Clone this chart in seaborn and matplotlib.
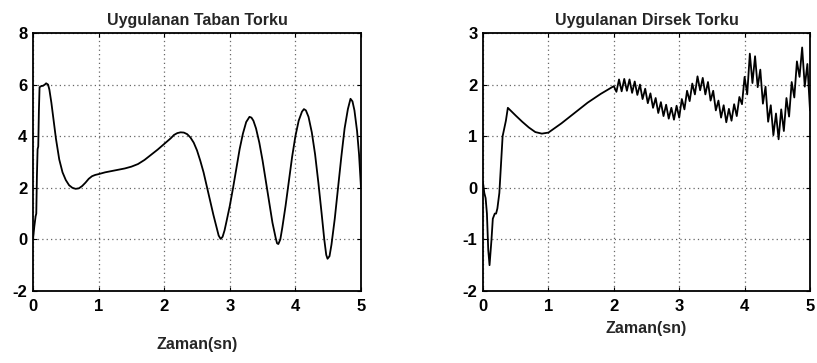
import matplotlib
matplotlib.use("Agg")
import matplotlib.pyplot as plt
import seaborn as sns
import pandas as pd

# ---- data ----
taban_t = [0.00, 0.02, 0.04, 0.05, 0.06, 0.07, 0.08, 0.09, 0.10, 0.13, 0.15, 0.18, 0.20,
           0.23, 0.25, 0.28, 0.30, 0.33, 0.35, 0.40, 0.45, 0.50, 0.55, 0.60, 0.65, 0.70,
           0.75, 0.80, 0.85, 0.90, 0.95, 1.00, 1.10, 1.20, 1.30, 1.40, 1.50, 1.60, 1.70,
           1.80, 1.90, 2.00, 2.10, 2.15, 2.20, 2.25, 2.30, 2.35, 2.40, 2.45, 2.50, 2.55,
           2.60, 2.65, 2.70, 2.75, 2.80, 2.83, 2.86, 2.89, 2.92, 2.95, 3.00, 3.05, 3.10,
           3.15, 3.20, 3.25, 3.30, 3.33, 3.36, 3.40, 3.45, 3.50, 3.55, 3.60, 3.65, 3.70,
           3.72, 3.74, 3.77, 3.80, 3.85, 3.90, 3.95, 4.00, 4.05, 4.10, 4.13, 4.16, 4.20,
           4.25, 4.30, 4.35, 4.40, 4.44, 4.47, 4.49, 4.52, 4.55, 4.60, 4.65, 4.70, 4.75,
           4.80, 4.84, 4.87, 4.90, 4.94, 4.97, 5.00]
taban_y = [0.0, 0.5, 0.9, 1.0, 2.5, 3.5, 3.6, 5.0, 5.9, 5.95, 5.95, 6.0, 6.05,
           6.0, 5.8, 5.3, 4.9, 4.3, 3.9, 3.1, 2.6, 2.3, 2.1, 2.0, 1.96, 1.98,
           2.07, 2.2, 2.35, 2.45, 2.5, 2.53, 2.6, 2.65, 2.7, 2.75, 2.82, 2.92, 3.08,
           3.28, 3.48, 3.7, 3.92, 4.05, 4.12, 4.15, 4.14, 4.08, 3.95, 3.75, 3.45, 3.05,
           2.6, 2.05, 1.5, 0.95, 0.45, 0.15, 0.02, 0.1, 0.35, 0.7, 1.3, 2.0, 2.75,
           3.5, 4.1, 4.55, 4.75, 4.72, 4.6, 4.3, 3.75, 3.05, 2.25, 1.45, 0.65, 0.05,
           -0.15, -0.18, 0.0, 0.45, 1.3, 2.25, 3.2, 4.0, 4.6, 4.95, 5.05, 5.0, 4.75,
           4.15, 3.3, 2.2, 1.0, 0.0, -0.6, -0.75, -0.65, -0.2, 0.8, 2.0, 3.2, 4.3,
           5.05, 5.45, 5.35, 5.0, 4.2, 3.3, 2.0]

dirsek_t = [0.00, 0.02, 0.04, 0.06, 0.08, 0.10, 0.13, 0.15, 0.18, 0.20, 0.22, 0.25, 0.30,
            0.35, 0.38, 0.50, 0.60, 0.70, 0.80, 0.90, 1.00, 1.20, 1.40, 1.60, 1.80,
            2.00, 2.04, 2.08, 2.12, 2.16, 2.20, 2.24, 2.28, 2.32, 2.36, 2.40, 2.44, 2.48,
            2.52, 2.56, 2.60, 2.64, 2.68, 2.72, 2.76, 2.80, 2.84, 2.88, 2.92, 2.96,
            3.00, 3.04, 3.08, 3.12, 3.16, 3.20, 3.24, 3.28, 3.32, 3.36, 3.40, 3.44,
            3.48, 3.52, 3.56, 3.60, 3.64, 3.68, 3.72, 3.76, 3.80, 3.84, 3.88, 3.92,
            3.96, 4.00, 4.04, 4.08, 4.12, 4.16, 4.20, 4.24, 4.28, 4.32, 4.36, 4.40,
            4.44, 4.48, 4.52, 4.56, 4.60, 4.64, 4.68, 4.72, 4.76, 4.80, 4.84, 4.88,
            4.92, 4.96, 5.00]
dirsek_y = [0.1, -0.1, -0.2, -0.5, -1.2, -1.5, -1.0, -0.6, -0.5, -0.5, -0.4, -0.1, 1.0,
            1.3, 1.55, 1.4, 1.28, 1.17, 1.08, 1.05, 1.07, 1.25, 1.45, 1.65, 1.82,
            1.97, 1.86, 2.10, 1.87, 2.11, 1.88, 2.10, 1.84, 2.06, 1.80, 2.00, 1.72, 1.92,
            1.64, 1.83, 1.55, 1.74, 1.45, 1.66, 1.39, 1.61, 1.34, 1.55, 1.32, 1.59,
            1.36, 1.72, 1.52, 1.88, 1.68, 2.02, 1.81, 2.16, 1.89, 2.13, 1.81, 2.05,
            1.69, 1.88, 1.50, 1.69, 1.36, 1.60, 1.27, 1.53, 1.30, 1.62, 1.39, 1.76,
            1.62, 2.15, 1.81, 2.60, 2.03, 2.55, 1.95, 2.29, 1.63, 1.96, 1.28, 1.60,
            1.02, 1.44, 0.94, 1.52, 1.10, 1.74, 1.38, 2.05, 1.75, 2.45, 2.15, 2.72,
            1.96, 2.40, 1.50]

titles = ["Uygulanan Taban Torku", "Uygulanan Dirsek Torku"]
xlabel = "Zaman(sn)"
xticks = [0, 1, 2, 3, 4, 5]
yticks_left = [-2, 0, 2, 4, 6, 8]
yticks_right = [-2, -1, 0, 1, 2, 3]

sns.set_style("white")
plt.rcParams["font.family"] = ["Liberation Sans", "DejaVu Sans"]

fig = plt.figure(figsize=(8.17, 3.63), dpi=100)
ax1 = fig.add_axes([33/817, 1-291/363, 328/817, 258/363])
ax2 = fig.add_axes([483/817, 1-291/363, 327/817, 258/363])

df1 = pd.DataFrame({"t": taban_t, "y": taban_y})
df2 = pd.DataFrame({"t": dirsek_t, "y": dirsek_y})
sns.lineplot(data=df1, x="t", y="y", ax=ax1, color="black", linewidth=1.3, sort=False)
sns.lineplot(data=df2, x="t", y="y", ax=ax2, color="black", linewidth=1.3, sort=False)

for ax, title, yt, pad in [(ax1, titles[0], yticks_left, 16), (ax2, titles[1], yticks_right, 5)]:
    ax.set_xlim(0, 5)
    ax.set_ylim(yt[0], yt[-1])
    ax.set_xticks(xticks)
    ax.set_yticks(yt)
    ax.set_xticklabels([str(v) for v in xticks], fontsize=12, fontweight="bold")
    ax.set_yticklabels([str(v) for v in yt], fontsize=12, fontweight="bold")
    ax.set_title(title, fontsize=11.5, fontweight="bold", pad=6)
    ax.set_ylabel("")
    ax.set_xlabel(xlabel, fontsize=11.5, fontweight="bold", labelpad=pad)
    ax.grid(True, linestyle=(0, (1, 2.5)), color="#666666", linewidth=0.9)
    ax.tick_params(axis="x", direction="in", length=3, width=0.8, pad=6, colors="black",
                   top=True, bottom=True)
    ax.tick_params(axis="y", direction="in", length=3, width=0.8, pad=4, colors="black",
                   left=True, right=True)
    for s in ax.spines.values():
        s.set_color("black")
        s.set_linewidth(1.3)
        s.set_visible(True)

fig.savefig("out.png", dpi=100)
